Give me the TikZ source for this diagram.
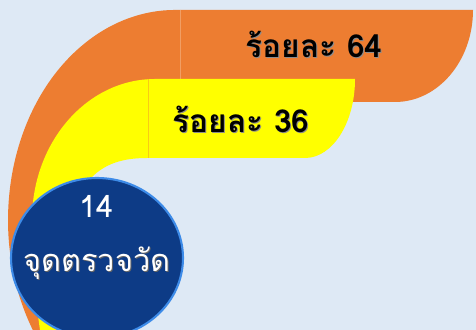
\documentclass[tikz,border=0pt]{standalone}
\usepackage{fontspec}
\usepackage{tikz}
\usetikzlibrary{shapes.geometric}
\newfontfamily\thaifont[Script=Thai]{Loma}
\definecolor{bgblue}{HTML}{DEE9F5}
\definecolor{arcorange}{HTML}{ED7D31}
\definecolor{arcyellow}{HTML}{FFFF00}
\definecolor{dotnavy}{HTML}{0D3B86}
\definecolor{rimblue}{HTML}{3D8BE8}
\def\pctfont{\thaifont\bfseries\fontsize{18}{20}\selectfont}
\def\dotfont{\thaifont\fontsize{17.5}{20}\selectfont}

\begin{document}
\begin{tikzpicture}[x=0.02cm,y=0.02cm,
    pct/.style={font=\pctfont, anchor=base, inner sep=0pt},
    dot/.style={font=\dotfont, anchor=base, inner sep=0pt, text=white}]
  \fill[bgblue] (0,0) rectangle (476,330);
  \clip (0,0) rectangle (476,330);

  % outer band
  \fill[arcorange] (32.8,0) arc[start angle=211.6, end angle=90, x radius=167, y radius=210]
    -- (473,320) arc[start angle=0, end angle=-90, x radius=78, y radius=92]
    -- (150,228) -- (60,160) -- (80,0) -- cycle;
  \draw[arcorange!75!white, line width=0.3pt] (180,320) -- (180,251);

  % inner band
  \fill[arcyellow] (40,0) .. controls (34,40) and (32,80) .. (32,110)
    arc[start angle=180, end angle=90, x radius=123, y radius=141]
    -- (355,251) arc[start angle=0, end angle=-90, x radius=50, y radius=79]
    -- (147,172) .. controls (120,172) and (100,165) .. (85,145) -- (85,0) -- cycle;
  \draw[arcorange!40!arcyellow, line width=0.3pt] (148,251) -- (148,172);

  \node[pct, text=black!45] (s64) at (315,271) {ร้อยละ 64};
  \node[pct] (t64) at (314,272) {ร้อยละ 64};
  \node[pct, text=black!45] (s36) at (242,196) {ร้อยละ 36};
  \node[pct] (t36) at (241,197) {ร้อยละ 36};

  % measuring points
  \node[ellipse, fill=dotnavy, draw=rimblue, line width=1.2pt,
        minimum width=3.44cm, minimum height=3.2cm, inner sep=0pt] (spot) at (97,72) {};
  \node[dot] (n14) at (97,112) {14};
  \node[dot, text=black!60] (sword) at (98,57) {จุดตรวจวัด};
  \node[dot] (word) at (97,58) {จุดตรวจวัด};
\end{tikzpicture}
\end{document}
